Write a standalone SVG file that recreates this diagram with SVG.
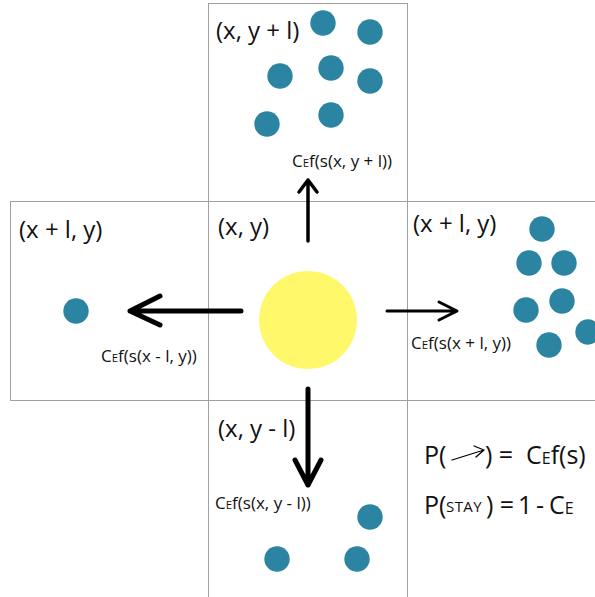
<svg xmlns="http://www.w3.org/2000/svg" width="595" height="597" viewBox="0 0 595 597">
<style>
.cell{fill:none;stroke:#a0a0a0;stroke-width:1}
.dot{fill:#2a84a2}
.big{font-family:"Open Sans","Noto Sans",sans-serif;font-size:24px;fill:#111}
.leg{font-family:"Open Sans","Noto Sans",sans-serif;font-size:25px;fill:#111}
.stay{font-family:"Open Sans","Noto Sans",sans-serif;font-size:15px;letter-spacing:0.4px;fill:#111}
.small{font-family:"Open Sans","Noto Sans",sans-serif;font-size:17px;fill:#111}
.sc{font-size:11.5px}
.arr{fill:none;stroke:#000;stroke-linecap:round;stroke-linejoin:round}
</style>
<rect width="595" height="597" fill="#fff"/>
<g id="cell-top">
<rect class="cell" x="208.5" y="3.5" width="199" height="198"/>
<text class="big" x="216" y="39">(x, y + l)</text>
<circle class="dot" cx="323" cy="23" r="12.7"/>
<circle class="dot" cx="370" cy="32" r="12.7"/>
<circle class="dot" cx="280" cy="76" r="12.7"/>
<circle class="dot" cx="331" cy="68" r="12.7"/>
<circle class="dot" cx="370" cy="81" r="12.7"/>
<circle class="dot" cx="267" cy="124" r="12.7"/>
<circle class="dot" cx="331" cy="115" r="12.7"/>
<text class="small" x="292" y="167">C<tspan class="sc">E</tspan>f(s(x, y + l))</text>
</g>
<g id="cell-left">
<rect class="cell" x="10.5" y="201.5" width="198" height="199"/>
<text class="big" x="19" y="238">(x + l, y)</text>
<circle class="dot" cx="76" cy="311" r="12.7"/>
<text class="small" x="101" y="362">C<tspan class="sc">E</tspan>f(s(x - l, y))</text>
</g>
<g id="cell-center">
<rect class="cell" x="208.5" y="201.5" width="199" height="199"/>
<text class="big" x="218" y="235">(x, y)</text>
<circle cx="308" cy="320" r="49" fill="#fff86a"/>
</g>
<g id="cell-right">
<rect class="cell" x="407.5" y="201.5" width="200" height="199"/>
<text class="big" x="413" y="232">(x + l, y)</text>
<circle class="dot" cx="542" cy="229" r="12.7"/>
<circle class="dot" cx="529" cy="263" r="12.7"/>
<circle class="dot" cx="564" cy="263" r="12.7"/>
<circle class="dot" cx="562" cy="301" r="12.7"/>
<circle class="dot" cx="526" cy="310" r="12.7"/>
<circle class="dot" cx="588" cy="332" r="12.7"/>
<circle class="dot" cx="549" cy="345" r="12.7"/>
<text class="small" x="411" y="349">C<tspan class="sc">E</tspan>f(s(x + l, y))</text>
</g>
<g id="cell-bottom">
<rect class="cell" x="208.5" y="400.5" width="199" height="200"/>
<text class="big" x="218" y="437">(x, y - l)</text>
<circle class="dot" cx="370" cy="517" r="12.7"/>
<circle class="dot" cx="277" cy="559" r="12.7"/>
<circle class="dot" cx="357" cy="559" r="12.7"/>
<text class="small" x="215" y="509">C<tspan class="sc">E</tspan>f(s(x, y - l))</text>
</g>
<g id="connectors">
<path class="arr" stroke-width="3.5" d="M308 241 V180 M299 192 L308 180 L317 192"/>
<path class="arr" stroke-width="5" d="M241 311 H130 M160 296 L130 311 L160 325"/>
<path class="arr" stroke-width="3" d="M387 311 H457 M439 302 L457 311 L439 320"/>
<path class="arr" stroke-width="5" d="M308 389 V485 M295 460 L308 485 L321 460"/>
</g>
<g id="legend">
<text class="leg" x="424" y="464">P(</text>
<path class="arr" stroke-width="1.3" d="M452 460 L484 450 M474 446 L484 450 L476 457"/>
<text class="leg" x="485" y="464">) =</text>
<text class="leg" x="526" y="464">C<tspan font-size="16">E</tspan>f(s)</text>
<text class="leg" x="424" y="514">P(</text>
<text class="stay" x="446" y="512">STAY</text>
<text class="leg" x="486" y="514">) =</text>
<text class="leg" x="518" y="514">1</text>
<text class="leg" x="536" y="514">-</text>
<text class="leg" x="549" y="514">C<tspan font-size="16">E</tspan></text>
</g>
</svg>
